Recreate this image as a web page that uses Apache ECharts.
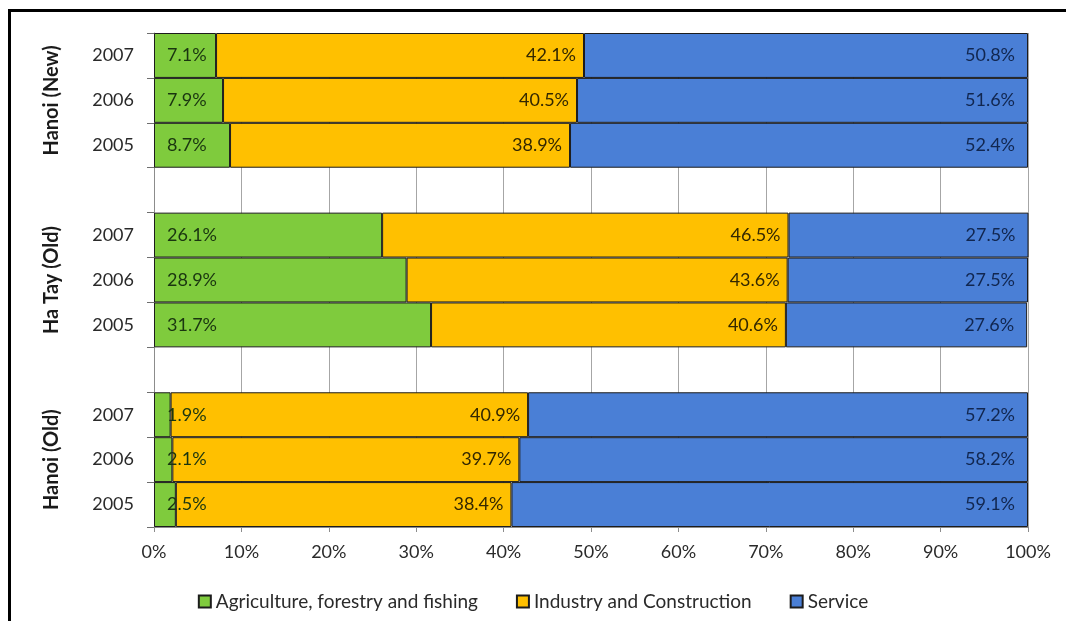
<!DOCTYPE html>
<html>
<head>
<meta charset="utf-8">
<style>
  html, body { margin: 0; padding: 0; background: #fff; }
  #chart { width: 1066px; height: 621px; }
</style>
<script src="https://cdn.jsdelivr.net/npm/echarts@6/dist/echarts.min.js"></script>
</head>
<body>
<div id="chart"></div>
<script>
// Rows from top to bottom; empty strings are spacer rows between regions.
const yearLabels = ['2007', '2006', '2005', '', '2007', '2006', '2005', '', '2007', '2006', '2005'];
const regionLabels = ['', 'Hanoi (New)', '', '', '', 'Ha Tay (Old)', '', '', '', 'Hanoi (Old)', ''];
const seriesNames = ['Agriculture, forestry and fishing', 'Industry and Construction', 'Service'];

// Share of GDP by sector (%), same row order as yearLabels.
const agriculture = [7.1, 7.9, 8.7, null, 26.1, 28.9, 31.7, null, 1.9, 2.1, 2.5];
const industry    = [42.1, 40.5, 38.9, null, 46.5, 43.6, 40.6, null, 40.9, 39.7, 38.4];
const service     = [50.8, 51.6, 52.4, null, 27.5, 27.5, 27.6, null, 57.2, 58.2, 59.1];

const FONT = 'Lato, "Open Sans", sans-serif';
const colors = ['#7fcb3d', '#ffc000', '#4a7fd6'];
const labelColors = ['#1a3510', '#332700', '#11264f'];

function pct(p) { return p.value == null ? '' : p.value.toFixed(1) + '%'; }

function barSeries(i, data, position, distance) {
  return {
    name: seriesNames[i],
    type: 'bar',
    stack: 'total',
    data: data,
    barWidth: '100%',
    itemStyle: { color: colors[i], borderColor: '#1c1c1c', borderWidth: 1 },
    label: {
      show: true,
      position: position,
      distance: distance,
      formatter: pct,
      fontFamily: FONT,
      fontSize: 18,
      color: labelColors[i]
    },
    emphasis: { disabled: true }
  };
}

const chart = echarts.init(document.getElementById('chart'), null, { renderer: 'canvas' });

chart.setOption({
  animation: false,
  backgroundColor: '#ffffff',
  textStyle: { fontFamily: FONT },
  grid: { left: 154, right: 38, top: 33, bottom: 94, containLabel: false },
  legend: {
    top: 587,
    left: 'center',
    itemWidth: 12,
    itemHeight: 12,
    itemGap: 38,
    icon: 'rect',
    textStyle: { fontFamily: FONT, fontSize: 19, color: '#2a2a2a' },
    data: seriesNames
  },
  xAxis: {
    type: 'value',
    min: 0,
    max: 100,
    interval: 10,
    axisLine: { show: true, lineStyle: { color: '#8c8c8c' } },
    axisTick: { show: true, length: 5, lineStyle: { color: '#8c8c8c' } },
    splitLine: { show: true, lineStyle: { color: '#a6a6a6', width: 1 } },
    axisLabel: {
      formatter: '{value}%',
      margin: 16,
      fontFamily: FONT,
      fontSize: 18,
      color: '#2a2a2a'
    }
  },
  yAxis: [
    {
      type: 'category',
      inverse: true,
      data: yearLabels,
      axisLine: { show: true, lineStyle: { color: '#8c8c8c' } },
      axisTick: { show: true, length: 7, interval: 0, lineStyle: { color: '#6e6e6e' } },
      splitLine: { show: false },
      axisLabel: {
        interval: 0,
        margin: 20,
        fontFamily: FONT,
        fontSize: 18,
        color: '#2a2a2a'
      }
    },
    {
      type: 'category',
      inverse: true,
      position: 'left',
      offset: 84,
      data: regionLabels,
      axisLine: { show: false },
      axisTick: { show: false },
      splitLine: { show: false },
      axisLabel: {
        interval: 0,
        rotate: 90,
        margin: 8,
        fontFamily: FONT,
        fontSize: 20,
        fontWeight: 'bold',
        color: '#1a1a1a'
      }
    }
  ],
  graphic: [
    {
      type: 'rect',
      silent: true,
      z: 100,
      shape: { x: 9.5, y: 10.5, width: 1100, height: 700 },
      style: { fill: 'none', stroke: '#000000', lineWidth: 3 }
    }
  ],
  series: [
    barSeries(0, agriculture, 'insideLeft', 13),
    barSeries(1, industry, 'insideRight', 8),
    barSeries(2, service, 'insideRight', 13)
  ]
});
</script>
</body>
</html>
